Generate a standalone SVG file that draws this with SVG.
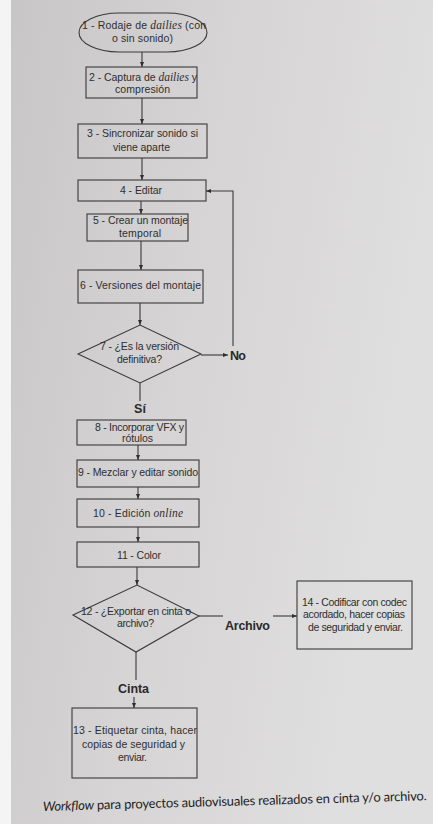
<svg xmlns="http://www.w3.org/2000/svg" width="433" height="824" viewBox="0 0 433 824">
<defs>
<linearGradient id="bg" x1="0" y1="0" x2="1" y2="0.3">
<stop offset="0" stop-color="#c8c5c7"/>
<stop offset="0.5" stop-color="#d6d4d5"/>
<stop offset="1" stop-color="#e0dfe0"/>
</linearGradient>
<marker id="ah" viewBox="0 0 10 10" refX="10" refY="5" markerWidth="5" markerHeight="5" orient="auto" markerUnits="userSpaceOnUse">
<path d="M0,1 L10,5 L0,9 z" fill="#2e2e2e"/>
</marker>
<style>
.shape{fill:none;stroke:#3a3a3a;stroke-width:1.1}
.t{font-family:"Liberation Sans",Arial,sans-serif;font-size:10.5px;fill:#2e2e2e;text-anchor:middle}
.i{font-family:"Liberation Serif","Times New Roman",serif;font-style:italic;font-size:11.5px}
.b{font-family:"Liberation Sans",Arial,sans-serif;font-size:12.5px;font-weight:bold;fill:#2a2a2a}
.c{stroke:#3a3a3a;stroke-width:1.1;fill:none}
.cap{font-family:Lato,"Open Sans",sans-serif;font-size:13px;fill:#1e1e1e}
</style>
</defs>
<rect width="433" height="824" fill="url(#bg)"/>
<rect width="11" height="824" fill="#f4f4f4"/>

<g id="connectors">
<line class="c" x1="142" y1="52" x2="142" y2="67" marker-end="url(#ah)"/>
<line class="c" x1="142" y1="98" x2="142" y2="124" marker-end="url(#ah)"/>
<line class="c" x1="142" y1="158" x2="142" y2="180" marker-end="url(#ah)"/>
<line class="c" x1="141" y1="201" x2="141" y2="214" marker-end="url(#ah)"/>
<line class="c" x1="141" y1="241" x2="141" y2="270" marker-end="url(#ah)"/>
<line class="c" x1="140" y1="303" x2="140" y2="325" marker-end="url(#ah)"/>
<line class="c" x1="201" y1="355" x2="228" y2="355" marker-end="url(#ah)"/>
<polyline class="c" points="233,346 233,191 206,191" marker-end="url(#ah)"/>
<line class="c" x1="140" y1="383" x2="140" y2="401"/>
<line class="c" x1="138" y1="445" x2="138" y2="460" marker-end="url(#ah)"/>
<line class="c" x1="138" y1="487" x2="138" y2="499" marker-end="url(#ah)"/>
<line class="c" x1="138" y1="527" x2="138" y2="542" marker-end="url(#ah)"/>
<line class="c" x1="137" y1="567" x2="137" y2="585" marker-end="url(#ah)"/>
<line class="c" x1="199" y1="616" x2="223" y2="616"/>
<line class="c" x1="273" y1="616" x2="297" y2="616" marker-end="url(#ah)"/>
<line class="c" x1="136" y1="652" x2="136" y2="680"/>
<line class="c" x1="134" y1="697" x2="134" y2="708" marker-end="url(#ah)"/>
<text class="b" x="230" y="360" textLength="16">No</text>
<text class="b" x="140" y="413" text-anchor="middle">Sí</text>
<text class="b" x="225" y="630" textLength="45">Archivo</text>
<text class="b" x="133.5" y="693" text-anchor="middle" textLength="31">Cinta</text>
</g>

<g id="n1">
<rect class="shape" x="79" y="13" width="128" height="39" rx="40" ry="19.5"/>
<text class="t" x="144" y="29" textLength="124">1 - Rodaje  de <tspan class="i">dailies</tspan> (con</text>
<text class="t" x="142.5" y="42" textLength="61">o sin sonido)</text>
</g>
<g id="n2">
<rect class="shape" x="86" y="67" width="111" height="31"/>
<text class="t" x="143" y="81" textLength="108">2 - Captura de <tspan class="i">dailies</tspan> y</text>
<text class="t" x="142.5" y="93" textLength="55">compresión</text>
</g>
<g id="n3">
<rect class="shape" x="78" y="124" width="129" height="34"/>
<text class="t" x="142.5" y="137" textLength="111">3 - Sincronizar sonido si</text>
<text class="t" x="141.5" y="151" textLength="57">viene aparte</text>
</g>
<g id="n4">
<rect class="shape" x="78" y="180" width="128" height="21"/>
<text class="t" x="141" y="194" textLength="42">4 - Editar</text>
</g>
<g id="n5">
<rect class="shape" x="87" y="214" width="101" height="27"/>
<text class="t" x="140.5" y="224" textLength="95">5 - Crear un montaje</text>
<text class="t" x="140" y="237" textLength="42">temporal</text>
</g>
<g id="n6">
<rect class="shape" x="78" y="270" width="125" height="33"/>
<text class="t" x="140.5" y="289" textLength="121">6 - Versiones del montaje</text>
</g>
<g id="n7">
<polygon class="shape" points="78,354 140,325 201,354 140,383"/>
<text class="t" x="139.5" y="350" textLength="79">7 - ¿Es la versión</text>
<text class="t" x="139.5" y="363" textLength="45">definitiva?</text>
</g>
<g id="n8">
<rect class="shape" x="77" y="420" width="109" height="25"/>
<text class="t" x="139.5" y="431" textLength="89">8 - Incorporar VFX y</text>
<text class="t" x="137.5" y="442" textLength="31">rótulos</text>
</g>
<g id="n9">
<rect class="shape" x="77" y="460" width="122" height="27"/>
<text class="t" x="138" y="476" textLength="120">9 - Mezclar y editar sonido</text>
</g>
<g id="n10">
<rect class="shape" x="77" y="499" width="122" height="28"/>
<text class="t" x="138" y="517" textLength="90">10 - Edición  <tspan class="i">online</tspan></text>
</g>
<g id="n11">
<rect class="shape" x="77" y="542" width="122" height="25"/>
<text class="t" x="139" y="559" textLength="44">11 - Color</text>
</g>
<g id="n12">
<polygon class="shape" points="73,615 137,585 199,616 136,652"/>
<text class="t" x="136" y="615" textLength="110">12 - ¿Exportar en cinta o</text>
<text class="t" x="135.5" y="627" textLength="37">archivo?</text>
</g>
<g id="n14">
<rect class="shape" x="297" y="581" width="115" height="68"/>
<text class="t" x="354.5" y="606" textLength="105">14 - Codificar con codec</text>
<text class="t" x="354" y="618" textLength="102">acordado, hacer copias</text>
<text class="t" x="355.5" y="631" textLength="95">de seguridad y enviar.</text>
</g>
<g id="n13">
<rect class="shape" x="72" y="708" width="125" height="70"/>
<text class="t" x="135" y="734" textLength="124">13 - Etiquetar cinta, hacer</text>
<text class="t" x="133.5" y="748" textLength="103">copias de seguridad y</text>
<text class="t" x="132.5" y="761" textLength="29">enviar.</text>
</g>

<text class="cap" x="43" y="811" transform="rotate(-1.6 43 811)" textLength="384" lengthAdjust="spacing"><tspan font-style="italic">Workflow</tspan> para proyectos audiovisuales realizados en cinta y/o archivo.</text>
</svg>
